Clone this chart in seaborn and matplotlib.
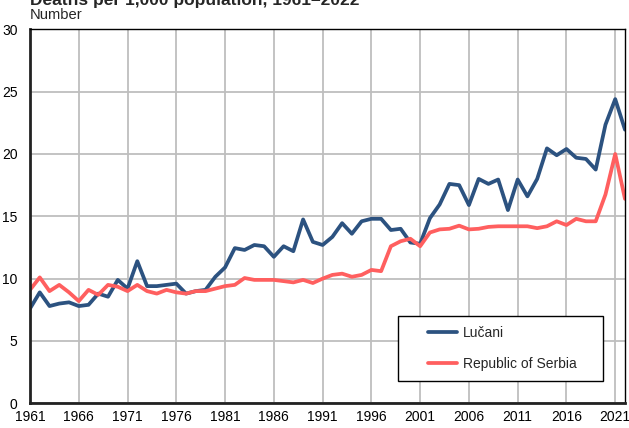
import numpy as np
import pandas as pd
import matplotlib
matplotlib.use('Agg')
import matplotlib.pyplot as plt
import seaborn as sns

# Data (deaths per 1,000 population)
years = list(range(1961, 2023))
lucani = [7.6, 8.9, 7.8, 8.0, 8.1, 7.8, 7.9, 8.8, 8.55, 9.9,
          9.2, 11.4, 9.4, 9.4, 9.5, 9.6, 8.8, 9.0, 9.1, 10.15,
          10.9, 12.45, 12.3, 12.7, 12.6, 11.75, 12.6, 12.2, 14.75, 12.95,
          12.7, 13.35, 14.45, 13.6, 14.6, 14.8, 14.8, 13.9, 14.0, 12.9,
          12.8, 14.85, 15.95, 17.6, 17.5, 15.9, 18.0, 17.6, 17.95, 15.5,
          17.95, 16.6, 18.0, 20.45, 19.9, 20.4, 19.7, 19.6, 18.75, 22.35,
          24.4, 21.95]
serbia = [9.1, 10.1, 9.0, 9.5, 8.9, 8.2, 9.1, 8.7, 9.5, 9.35,
          9.0, 9.5, 9.0, 8.8, 9.1, 8.9, 8.8, 9.0, 9.0, 9.2,
          9.4, 9.5, 10.05, 9.9, 9.9, 9.9, 9.8, 9.7, 9.9, 9.65,
          10.0, 10.3, 10.4, 10.15, 10.3, 10.7, 10.6, 12.6, 13.0, 13.2,
          12.6, 13.7, 13.95, 14.0, 14.25, 13.95, 14.0, 14.15, 14.2, 14.2,
          14.2, 14.2, 14.05, 14.2, 14.6, 14.3, 14.8, 14.6, 14.6, 16.75,
          20.0, 16.4]
series_names = ['Lučani', 'Republic of Serbia']
series_colors = ['#2C5280', '#FF5F5F']
x_ticks = list(range(1961, 2022, 5))
y_ticks = [0, 5, 10, 15, 20, 25, 30]

df = pd.DataFrame({
    'Year': years * 2,
    'Value': lucani + serbia,
    'Area': [series_names[0]] * len(years) + [series_names[1]] * len(years),
})

sns.set_style('white')
plt.rcParams['font.family'] = ['Liberation Sans', 'DejaVu Sans']

fig = plt.figure(figsize=(6.29, 4.28), dpi=100)
ax = fig.add_axes([0.0477, 0.0577, 0.9459, 0.8738])

sns.lineplot(data=df, x='Year', y='Value', hue='Area', hue_order=series_names,
             palette=series_colors, linewidth=2.7, ax=ax, legend=True)

ax.set_xlim(1961, 2022)
ax.set_ylim(0, 30)
ax.set_xticks(x_ticks)
ax.set_yticks(y_ticks)
ax.tick_params(axis='both', length=0, labelsize=10, colors='black')
ax.tick_params(axis='y', pad=9)
ax.tick_params(axis='x', pad=5)
ax.grid(True, color='#BEBEBE', linewidth=1.3)
ax.set_axisbelow(True)
ax.set_xlabel('')
ax.set_ylabel('')

for side in ['top', 'right']:
    ax.spines[side].set_color('black')
    ax.spines[side].set_linewidth(1.0)
for side in ['left', 'bottom']:
    ax.spines[side].set_color('#222222')
    ax.spines[side].set_linewidth(2.0)

# legend box: wide, with the line pushed in from the left edge
leg = ax.legend(loc='lower left', bbox_to_anchor=(0.6185, 0.0596, 0.3445, 0.17),
                mode='expand', frameon=True, fancybox=False, edgecolor='black',
                fontsize=10, handlelength=3.55, labelspacing=1.27, borderpad=0.7,
                handletextpad=0.4, borderaxespad=0)
leg.get_frame().set_linewidth(1.0)
leg.get_frame().set_alpha(1)
for line in leg.get_lines():
    xd = np.asarray(line.get_xdata(), dtype=float)
    yd = np.asarray(line.get_ydata(), dtype=float)
    line.set_data([xd[-1] - 20.9, xd[-1]], [yd[0], yd[0]])

fig.text(0.0477, 1 - 5 / 428, 'Deaths per 1,000 population, 1961–2022',
         fontsize=12.5, fontweight='bold', ha='left', va='baseline')
fig.text(0.0477, 1 - 19 / 428, 'Number', fontsize=10.6, ha='left', va='baseline')

fig.savefig('out.png', dpi=100)
